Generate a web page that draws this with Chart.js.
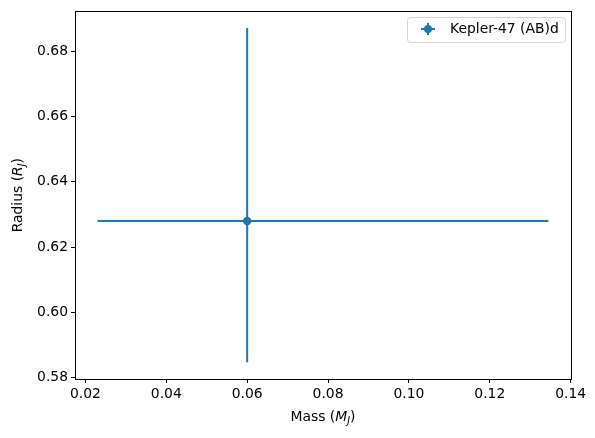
<!DOCTYPE html>
<html>
<head>
<meta charset="utf-8">
<script src="https://cdn.jsdelivr.net/npm/chart.js@4/dist/chart.umd.min.js"></script>
<style>
  html,body{margin:0;padding:0;background:#fff;}
  #wrap{width:595px;height:438px;position:relative;}
</style>
</head>
<body>
<div id="wrap"><canvas id="massRadius" width="595" height="438"></canvas></div>
<script>
// DATA
const planetNames = ['Kepler-47 (AB)d'];
const massValues = [0.06];
const massErrLow = [0.0370];
const massErrHigh = [0.0745];
const radiusValues = [0.628];
const radiusErrLow = [0.0433];
const radiusErrHigh = [0.0591];
const xTicks = [0.02, 0.04, 0.06, 0.08, 0.10, 0.12, 0.14];
const yTicks = [0.58, 0.60, 0.62, 0.64, 0.66, 0.68];

const blue = '#1f77b4';
const fontFam = "'DejaVu Sans', sans-serif";
const fontPx = 13.9;

// axis limits with matplotlib-like 5% margins
const xLo = massValues[0] - massErrLow[0], xHi = massValues[0] + massErrHigh[0];
const yLo = radiusValues[0] - radiusErrLow[0], yHi = radiusValues[0] + radiusErrHigh[0];
const xPad = (xHi - xLo) * 0.05, yPad = (yHi - yLo) * 0.05;

// error bar segments as line datasets
const hBar = [{x: xLo, y: radiusValues[0]}, {x: xHi, y: radiusValues[0]}];
const vBar = [{x: massValues[0], y: yLo}, {x: massValues[0], y: yHi}];

// draw mixed text (normal / italic / subscript)
function drawRich(ctx, parts, x, y, rotate){
  ctx.save();
  ctx.translate(x, y);
  if(rotate) ctx.rotate(-Math.PI/2);
  let total = 0;
  parts.forEach(p=>{
    ctx.font = (p.it ? 'italic ' : '') + (p.sub ? fontPx*0.7 : fontPx) + 'px ' + fontFam;
    p.w = ctx.measureText(p.t).width;
    total += p.w;
  });
  let cx = -total/2;
  ctx.fillStyle = '#000';
  ctx.textBaseline = 'alphabetic';
  ctx.textAlign = 'left';
  parts.forEach(p=>{
    ctx.font = (p.it ? 'italic ' : '') + (p.sub ? fontPx*0.7 : fontPx) + 'px ' + fontFam;
    ctx.fillText(p.t, cx, p.sub ? 3 : 0);
    cx += p.w;
  });
  ctx.restore();
}

const framePlugin = {
  id: 'frame',
  afterDraw(chart){
    const {ctx, chartArea: a} = chart;
    ctx.save();
    ctx.strokeStyle = '#000';
    ctx.lineWidth = 1;
    ctx.strokeRect(Math.round(a.left)+0.5, Math.round(a.top)+0.5, Math.round(a.right-a.left), Math.round(a.bottom-a.top));

    // axis titles
    drawRich(ctx, [{t:'Mass ('},{t:'M',it:true},{t:'J',it:true,sub:true},{t:')'}], (a.left+a.right)/2, 421, false);
    drawRich(ctx, [{t:'Radius ('},{t:'R',it:true},{t:'J',it:true,sub:true},{t:')'}], 22, (a.top+a.bottom)/2, true);

    // legend
    const bx = 407, by = 17, bw = 158, bh = 25;
    ctx.beginPath();
    ctx.roundRect(bx+0.5, by+0.5, bw, bh, 3);
    ctx.fillStyle = 'rgba(255,255,255,0.8)';
    ctx.fill();
    ctx.strokeStyle = '#d6d6d6';
    ctx.stroke();
    const mx = 428, my = 29;
    ctx.strokeStyle = blue;
    ctx.lineWidth = 2;
    ctx.beginPath();
    ctx.moveTo(mx-7, my); ctx.lineTo(mx+7, my);
    ctx.moveTo(mx, my-6); ctx.lineTo(mx, my+6);
    ctx.stroke();
    ctx.beginPath();
    ctx.arc(mx, my, 4, 0, Math.PI*2);
    ctx.fillStyle = blue;
    ctx.fill();
    ctx.fillStyle = '#000';
    ctx.font = fontPx + 'px ' + fontFam;
    ctx.textBaseline = 'middle';
    ctx.fillText(planetNames[0], 450, my);
    ctx.restore();
  }
};

const ctx = document.getElementById('massRadius').getContext('2d');
new Chart(ctx, {
  type: 'scatter',
  data: {
    datasets: [
      {label: 'xerr', type: 'line', data: hBar, borderColor: blue, borderWidth: 2, pointRadius: 0, fill: false},
      {label: 'yerr', type: 'line', data: vBar, borderColor: blue, borderWidth: 2, pointRadius: 0, fill: false},
      {label: planetNames[0], data: massValues.map((m, i) => ({x: m, y: radiusValues[i]})),
        backgroundColor: blue, borderColor: blue, pointRadius: 4.2, pointBorderWidth: 0}
    ]
  },
  options: {
    responsive: false,
    animation: false,
    layout: {padding: {top: 10, right: 24, left: 0, bottom: 0}},
    plugins: {legend: {display: false}, tooltip: {enabled: false}},
    scales: {
      x: {
        type: 'linear',
        min: xLo - xPad, max: xHi + xPad,
        afterBuildTicks: s => { s.ticks = xTicks.map(v => ({value: v})); },
        afterFit: s => { s.height = 59; },
        grid: {drawOnChartArea: false, drawTicks: true, tickLength: 4, color: '#000', tickWidth: 1},
        border: {display: false},
        ticks: {color: '#000', padding: 3, maxRotation: 0, autoSkip: false,
          font: {family: fontFam, size: fontPx}, callback: v => v.toFixed(2)}
      },
      y: {
        type: 'linear',
        min: yLo - yPad, max: yHi + yPad,
        afterBuildTicks: s => { s.ticks = yTicks.map(v => ({value: v})); },
        afterFit: s => { s.width = 75; },
        grid: {drawOnChartArea: false, drawTicks: true, tickLength: 4, color: '#000', tickWidth: 1},
        border: {display: false},
        ticks: {color: '#000', padding: 3, autoSkip: false,
          font: {family: fontFam, size: fontPx}, callback: v => v.toFixed(2)}
      }
    }
  },
  plugins: [framePlugin]
});
</script>
</body>
</html>
